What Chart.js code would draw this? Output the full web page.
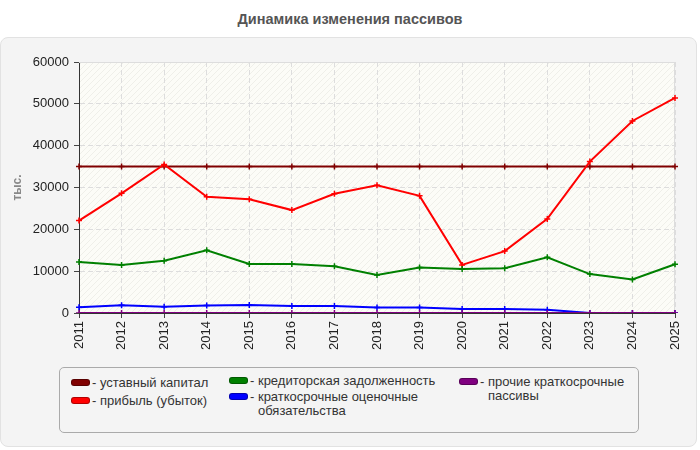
<!DOCTYPE html>
<html>
<head>
<meta charset="utf-8">
<script src="https://cdn.jsdelivr.net/npm/chart.js@4/dist/chart.umd.min.js"></script>
<style>
  html, body { margin: 0; padding: 0; background: #ffffff; }
  #wrap { position: relative; width: 700px; height: 450px; overflow: hidden; font-family: "Liberation Sans", Arial, sans-serif; }
  #panel { position: absolute; left: 0; top: 37px; width: 695px; height: 408px; background: #f4f4f4; border: 1px solid #e2e2e2; border-radius: 8px; }
  #title { position: absolute; left: 0; top: 11px; width: 700px; text-align: center; font-weight: bold; font-size: 14.5px; color: #555; }
  canvas { position: absolute; left: 0; top: 0; }
  #legend { position: absolute; left: 59px; top: 367px; width: 578px; height: 64px; border: 1px solid #aaa; border-radius: 5px; background: #f4f4f4; box-sizing: content-box; }
  #legend .col { position: absolute; display: flex; flex-direction: column; }
  #legend .item { display: flex; align-items: flex-start; font-size: 13px; color: #333; line-height: 14px; }
  #legend .sw { flex: 0 0 auto; width: 17px; height: 5px; border-radius: 3px; border: 1px solid rgba(0,0,0,0.3); margin-top: 3px; margin-right: 2px; }
  #legend .dash { flex: 0 0 auto; white-space: pre; }
</style>
</head>
<body>
<div id="wrap">
  <div id="panel"></div>
  <div id="title">Динамика изменения пассивов</div>
  <canvas id="c" width="700" height="450"></canvas>
  <div id="legend">
    <div class="col" id="col0" style="left:11px; top:8px; row-gap:4px;"></div>
    <div class="col" id="col1" style="left:169px; top:6px; row-gap:2px; width:230px;"></div>
    <div class="col" id="col2" style="left:399px; top:7px; row-gap:2px; width:175px;"></div>
  </div>
</div>
<script>
const years = ["2011","2012","2013","2014","2015","2016","2017","2018","2019","2020","2021","2022","2023","2024","2025"];
const seriesNames = ["уставный капитал","прибыль (убыток)","кредиторская задолженность","краткосрочные оценочные обязательства","прочие краткосрочные пассивы"];
const seriesColors = ["#800000","#ff0000","#008000","#0000ff","#800080"];
const ustavCapital = [35000,35000,35000,35000,35000,35000,35000,35000,35000,35000,35000,35000,35000,35000,35000];
const profit = [22100,28600,35500,27800,27200,24600,28500,30550,28000,11500,14800,22500,36200,45900,51400];
const creditors = [12200,11500,12500,15000,11700,11700,11200,9100,10900,10500,10700,13300,9300,8000,11650];
const estimated = [1350,1850,1500,1800,1900,1650,1650,1300,1300,950,950,800,0,0,0];
const otherLiab = [0,0,0,0,0,0,0,0,0,0,0,0,0,0,0];
const yTicks = [0,10000,20000,30000,40000,50000,60000];
const yTitle = "тыс.";
const legendColumns = [[0,1],[2,3],[4]];

const allSeries = [ustavCapital, profit, creditors, estimated, otherLiab];

const datasets = allSeries.map((d, i) => ({
  label: seriesNames[i],
  data: d,
  borderColor: seriesColors[i],
  backgroundColor: seriesColors[i],
  borderWidth: 2,
  pointStyle: 'cross',
  pointRadius: 3,
  pointBorderWidth: 1.5,
  tension: 0,
  fill: false,
  order: allSeries.length - 1 - i
}));

function makePattern(ctx) {
  const p = document.createElement('canvas');
  p.width = 6; p.height = 6;
  const g = p.getContext('2d');
  g.fillStyle = '#fcfcf7';
  g.fillRect(0, 0, 6, 6);
  g.strokeStyle = '#efefe9';
  g.lineWidth = 1;
  g.beginPath();
  g.moveTo(0, 6); g.lineTo(6, 0);
  g.moveTo(-1, 1); g.lineTo(1, -1);
  g.moveTo(5, 7); g.lineTo(7, 5);
  g.stroke();
  return ctx.createPattern(p, 'repeat');
}

const bgPlugin = {
  id: 'plotBg',
  beforeDraw(chart) {
    const a = chart.chartArea;
    const ctx = chart.ctx;
    ctx.save();
    ctx.fillStyle = makePattern(ctx);
    ctx.fillRect(a.left, a.top, a.right - a.left, a.bottom - a.top);
    ctx.restore();
  },
  beforeDatasetsDraw(chart) {
    const a = chart.chartArea;
    const ctx = chart.ctx;
    ctx.save();
    ctx.strokeStyle = '#dddddd';
    ctx.lineWidth = 1;
    ctx.beginPath();
    ctx.moveTo(a.left, a.top + 0.5); ctx.lineTo(a.right - 0.5, a.top + 0.5); ctx.lineTo(a.right - 0.5, a.bottom);
    ctx.stroke();
    ctx.restore();
  }
};

const chart = new Chart(document.getElementById('c'), {
  type: 'line',
  data: { labels: years, datasets: datasets },
  plugins: [bgPlugin],
  options: {
    responsive: false,
    animation: false,
    devicePixelRatio: 1,
    layout: { padding: { left: 0, top: 62, right: 25, bottom: 0 } },
    plugins: {
      legend: { display: false },
      title: { display: false },
      tooltip: { enabled: false }
    },
    scales: {
      x: {
        type: 'category',
        offset: false,
        afterFit(s) { s.height = 137; },
        grid: { color: '#dddddd', tickColor: '#444', tickLength: 5, tickBorderDash: [] },
        border: { display: true, color: '#333', width: 1, dash: [5, 3] },
        ticks: { minRotation: 90, maxRotation: 90, autoSkip: false, padding: 3, color: '#222', font: { family: 'Liberation Sans', size: 13 } }
      },
      y: {
        min: 0, max: 60000,
        afterFit(s) { s.width = 79; },
        afterBuildTicks(s) { s.ticks = yTicks.map(v => ({ value: v })); },
        grid: { color: '#dddddd', tickColor: '#444', tickLength: 5, tickBorderDash: [] },
        border: { display: true, color: '#333', width: 1, dash: [5, 3] },
        ticks: { padding: 5, color: '#222', font: { family: 'Liberation Sans', size: 13 }, callback: v => String(v) },
        title: { display: true, text: yTitle, color: '#888', font: { family: 'Liberation Sans', size: 12, weight: 'bold' }, padding: { top: 10, bottom: 0 } }
      }
    }
  }
});

// HTML legend built from the chart's datasets
legendColumns.forEach((idxs, c) => {
  const col = document.getElementById('col' + c);
  idxs.forEach(i => {
    const ds = chart.data.datasets[i];
    const it = document.createElement('div');
    it.className = 'item';
    const sw = document.createElement('span');
    sw.className = 'sw';
    sw.style.background = ds.borderColor;
    const dash = document.createElement('span');
    dash.className = 'dash';
    dash.textContent = '- ';
    const tx = document.createElement('span');
    tx.textContent = ds.label;
    it.appendChild(sw); it.appendChild(dash); it.appendChild(tx);
    col.appendChild(it);
  });
});
</script>
</body>
</html>
